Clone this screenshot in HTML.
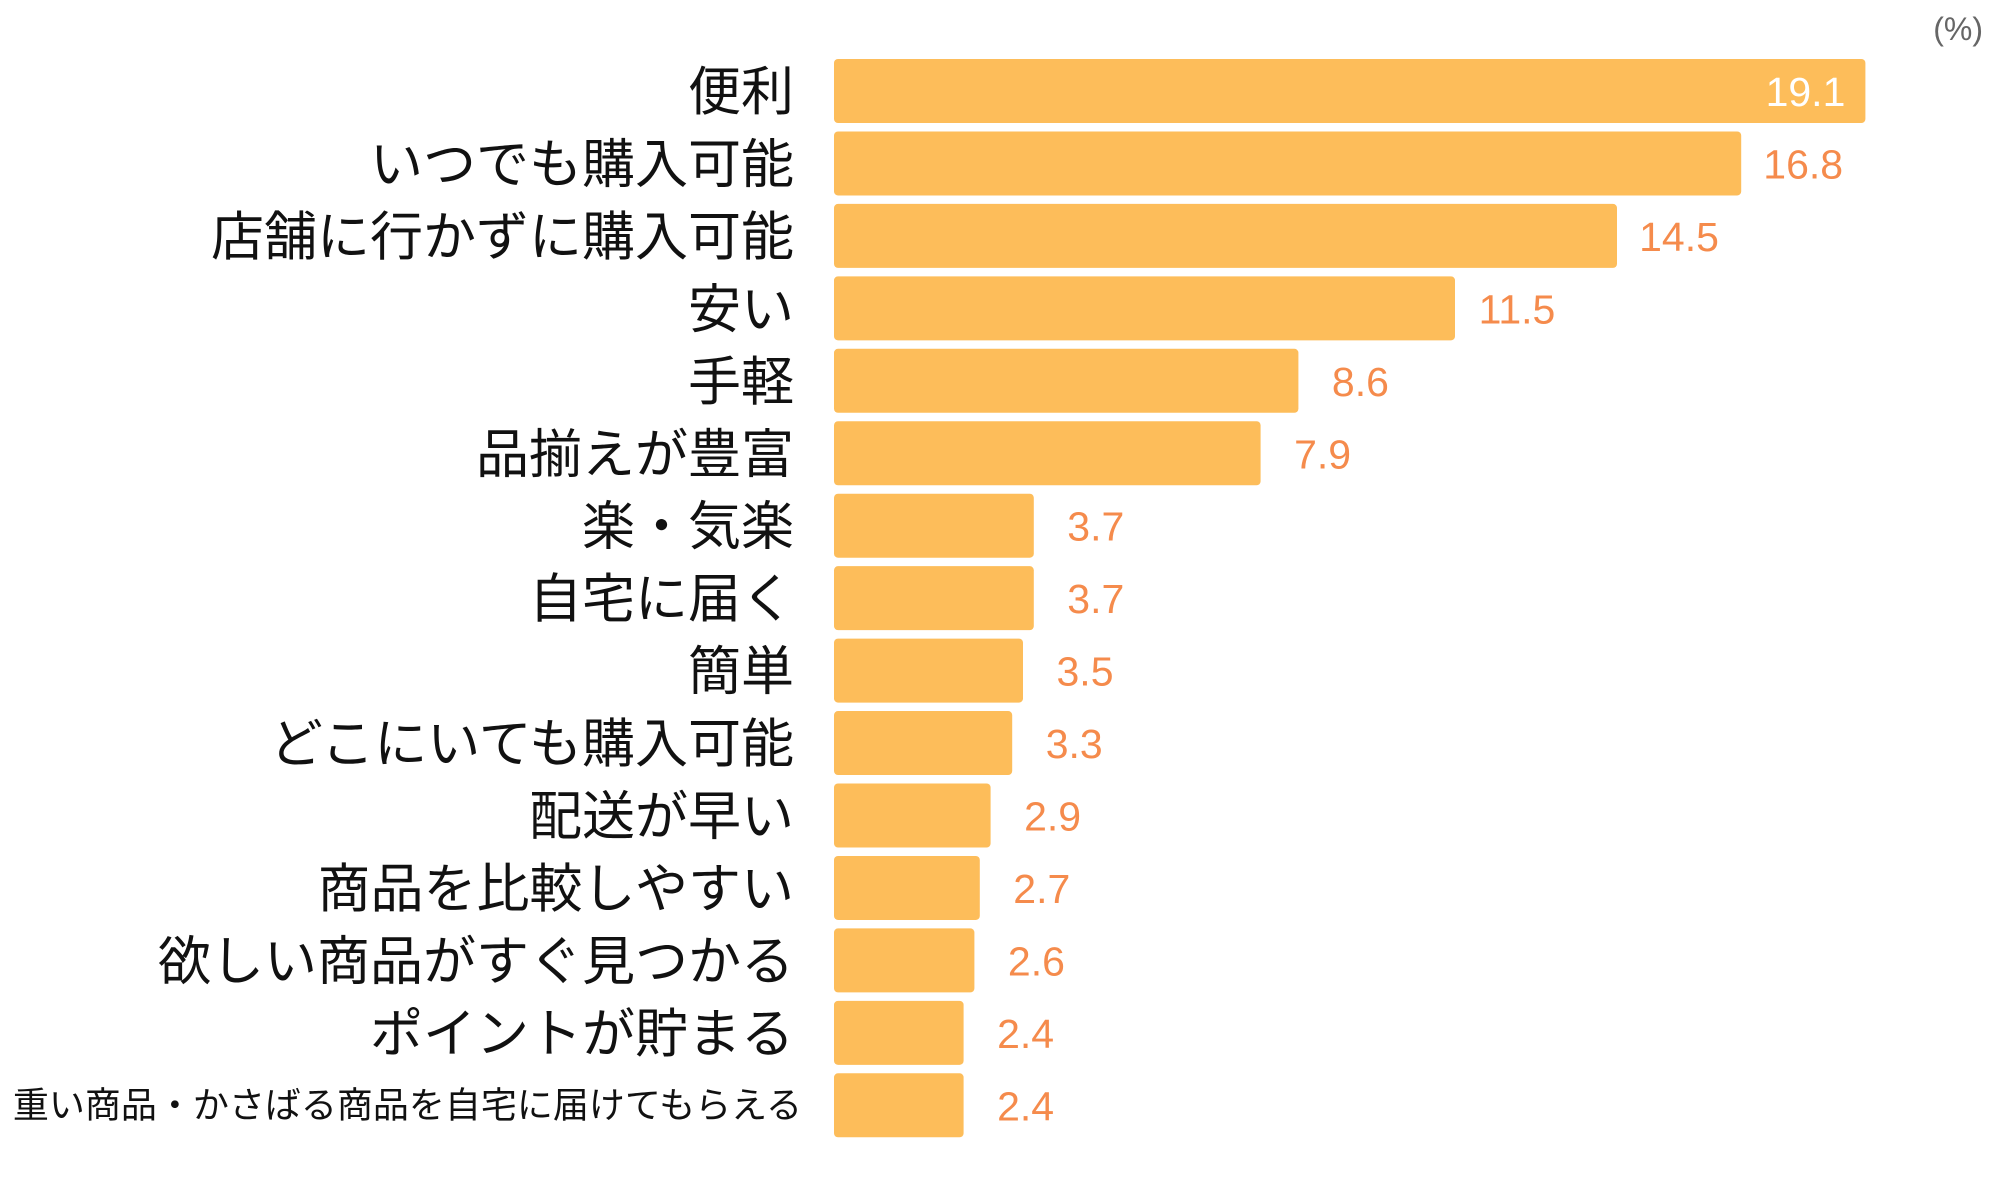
<!DOCTYPE html>
<html><head><meta charset="utf-8"><style>
html,body{margin:0;padding:0;background:#fff;}
svg{display:block;}
.l{font-family:"Liberation Sans","Noto Sans CJK JP",sans-serif;font-size:53px;fill:#111;text-anchor:end;}
.v{font-family:"Liberation Sans",sans-serif;font-size:41px;fill:#F58B4C;text-anchor:middle;}
</style></head><body>
<svg width="2000" height="1200" xmlns="http://www.w3.org/2000/svg">
<text x="1983" y="40" font-family="Liberation Sans, sans-serif" font-size="32" fill="#666" text-anchor="end">(%)</text>
<g id="g"></g>
</svg>
<script>
var d=[["便利",19.1],["いつでも購入可能",16.8],["店舗に行かずに購入可能",14.5],["安い",11.5],["手軽",8.6],["品揃えが豊富",7.9],["楽・気楽",3.7],["自宅に届く",3.7],["簡単",3.5],["どこにいても購入可能",3.3],["配送が早い",2.9],["商品を比較しやすい",2.7],["欲しい商品がすぐ見つかる",2.6],["ポイントが貯まる",2.4],["重い商品・かさばる商品を自宅に届けてもらえる",2.4]];
var s="",x0=834,k=54.0;
d.forEach(function(r,i){
 var y=59+i*72.45,w=r[1]*k,c=y+32;
 s+='<rect x="'+x0+'" y="'+y+'" width="'+w+'" height="64" rx="4" fill="#FDBD5A"/>';
 if(i==14) s+='<text class="l" x="802" y="'+(c+12)+'" style="font-size:36px">'+r[0]+'</text>';
 else s+='<text class="l" x="794" y="'+(c+19)+'">'+r[0]+'</text>';
 if(i==0) s+='<text class="v" x="'+(x0+w-20)+'" y="'+(c+15)+'" style="fill:#fff;text-anchor:end">'+r[1].toFixed(1)+'</text>';
 else s+='<text class="v" x="'+(x0+w+62)+'" y="'+(c+15)+'">'+r[1].toFixed(1)+'</text>';
});
document.getElementById("g").innerHTML=s;
</script>
</body></html>
